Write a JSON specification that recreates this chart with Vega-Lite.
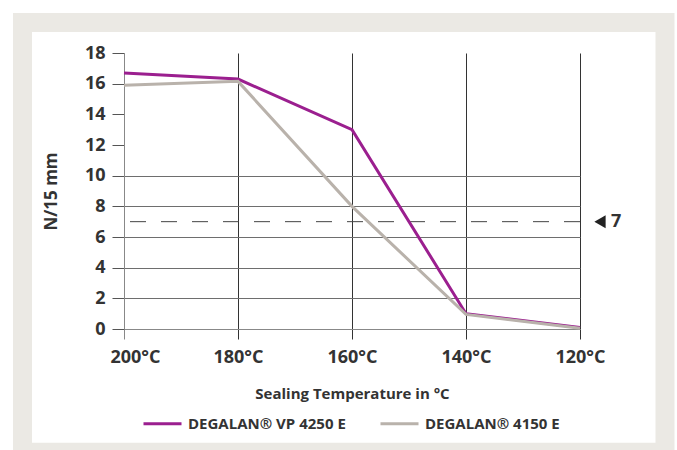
{
  "$schema": "https://vega.github.io/schema/vega-lite/v6.json",
  "width": 456,
  "height": 276,
  "autosize": {"type": "none"},
  "padding": {"left": 124, "top": 53, "right": 97, "bottom": 121},
  "background": "white",
  "config": {"view": {"stroke": null}, "font": "Open Sans"},
  "datasets": {
    "series": [
      {"temp": 200, "value": 16.7, "product": "DEGALAN® VP 4250 E"},
      {"temp": 180, "value": 16.3, "product": "DEGALAN® VP 4250 E"},
      {"temp": 160, "value": 13.0, "product": "DEGALAN® VP 4250 E"},
      {"temp": 140, "value": 1.0, "product": "DEGALAN® VP 4250 E"},
      {"temp": 120, "value": 0.1, "product": "DEGALAN® VP 4250 E"},
      {"temp": 200, "value": 15.9, "product": "DEGALAN® 4150 E"},
      {"temp": 180, "value": 16.15, "product": "DEGALAN® 4150 E"},
      {"temp": 160, "value": 8.0, "product": "DEGALAN® 4150 E"},
      {"temp": 140, "value": 0.95, "product": "DEGALAN® 4150 E"},
      {"temp": 120, "value": 0.05, "product": "DEGALAN® 4150 E"}
    ],
    "ref": [{"temp": 120, "value": 7, "label": "7"}],
    "frame": [{"temp": 217.81, "temp2": 105.09, "value": 19.99, "value2": -8.03}]
  },
  "layer": [
    {
      "data": {"name": "frame"},
      "mark": {"type": "rect", "fillOpacity": 0, "stroke": "#ebe9e4", "strokeWidth": 19, "clip": false},
      "encoding": {
        "x": {
          "field": "temp",
          "type": "quantitative",
          "scale": {"domain": [120, 200], "reverse": true, "nice": false, "zero": false},
          "axis": {
            "values": [200, 180, 160, 140, 120],
            "tickCount": 20,
            "grid": true,
            "gridColor": {"condition": {"test": "datum.value == 200", "value": "#888888"}, "value": "#333333"},
            "gridOpacity": 1,
            "domainColor": "#888888",
            "tickColor": {"condition": {"test": "datum.value == 200", "value": "#888888"}, "value": "#333333"},
            "tickSize": 10,
            "labelExpr": "datum.value + '°C'",
            "labelFontSize": 18,
            "labelFontWeight": "bold",
            "labelColor": "#333333",
            "labelPadding": 9,
            "labelFlush": false,
            "labelOverlap": false,
            "labelOffset": {"condition": {"test": "datum.value == 200", "value": 11}, "value": 0},
            "title": "Sealing Temperature in °C",
            "titleFontSize": 15,
            "titleFontWeight": "bold",
            "titleColor": "#333333",
            "titlePadding": 20
          }
        },
        "x2": {"field": "temp2"},
        "y": {
          "field": "value",
          "type": "quantitative",
          "scale": {"domain": [0, 18], "nice": false, "zero": false},
          "axis": {
            "values": [0, 2, 4, 6, 8, 10, 12, 14, 16, 18],
            "tickCount": 20,
            "grid": true,
            "gridColor": "#6e6e6e",
            "gridOpacity": {"condition": {"test": "datum.value > 10", "value": 0}, "value": 1},
            "domainColor": "#888888",
            "tickColor": "#555555",
            "tickSize": 12,
            "labelFontSize": 18,
            "labelFontWeight": "bold",
            "labelColor": "#333333",
            "labelPadding": 7,
            "labelOverlap": false,
            "labelFlush": false,
            "title": "N/15 mm",
            "titleFontSize": 17,
            "titleFontWeight": "bold",
            "titleColor": "#333333",
            "titlePadding": 24
          }
        },
        "y2": {"field": "value2"}
      }
    },
    {
      "data": {"name": "ref"},
      "mark": {"type": "rule", "strokeDash": [16, 15], "color": "#444", "strokeWidth": 1},
      "encoding": {
        "y": {"field": "value", "type": "quantitative"}
      }
    },
    {
      "data": {"name": "series"},
      "mark": {"type": "line", "strokeWidth": 3},
      "encoding": {
        "x": {"field": "temp", "type": "quantitative"},
        "y": {"field": "value", "type": "quantitative"},
        "color": {
          "field": "product",
          "type": "nominal",
          "scale": {"domain": ["DEGALAN® VP 4250 E", "DEGALAN® 4150 E"], "range": ["#9b1f8f", "#b9b2ab"]},
          "legend": {
            "title": null,
            "orient": "none",
            "direction": "horizontal",
            "legendX": 18,
            "legendY": 350,
            "symbolType": "stroke",
            "symbolSize": 1444,
            "symbolStrokeWidth": 3,
            "labelFontSize": 15,
            "labelFontWeight": "bold",
            "labelColor": "#333333",
            "labelOffset": 5,
            "columnPadding": 28
          }
        }
      }
    },
    {
      "data": {"name": "ref"},
      "mark": {"type": "point", "shape": "triangle-left", "filled": true, "size": 170, "color": "#222222", "opacity": 1, "xOffset": 20, "clip": false},
      "encoding": {
        "x": {"field": "temp", "type": "quantitative"},
        "y": {"field": "value", "type": "quantitative"}
      }
    },
    {
      "data": {"name": "ref"},
      "mark": {"type": "text", "align": "left", "baseline": "middle", "dx": 31, "fontSize": 18, "fontWeight": "bold", "color": "#333333", "clip": false},
      "encoding": {
        "x": {"field": "temp", "type": "quantitative"},
        "y": {"field": "value", "type": "quantitative"},
        "text": {"field": "label"}
      }
    }
  ]
}
